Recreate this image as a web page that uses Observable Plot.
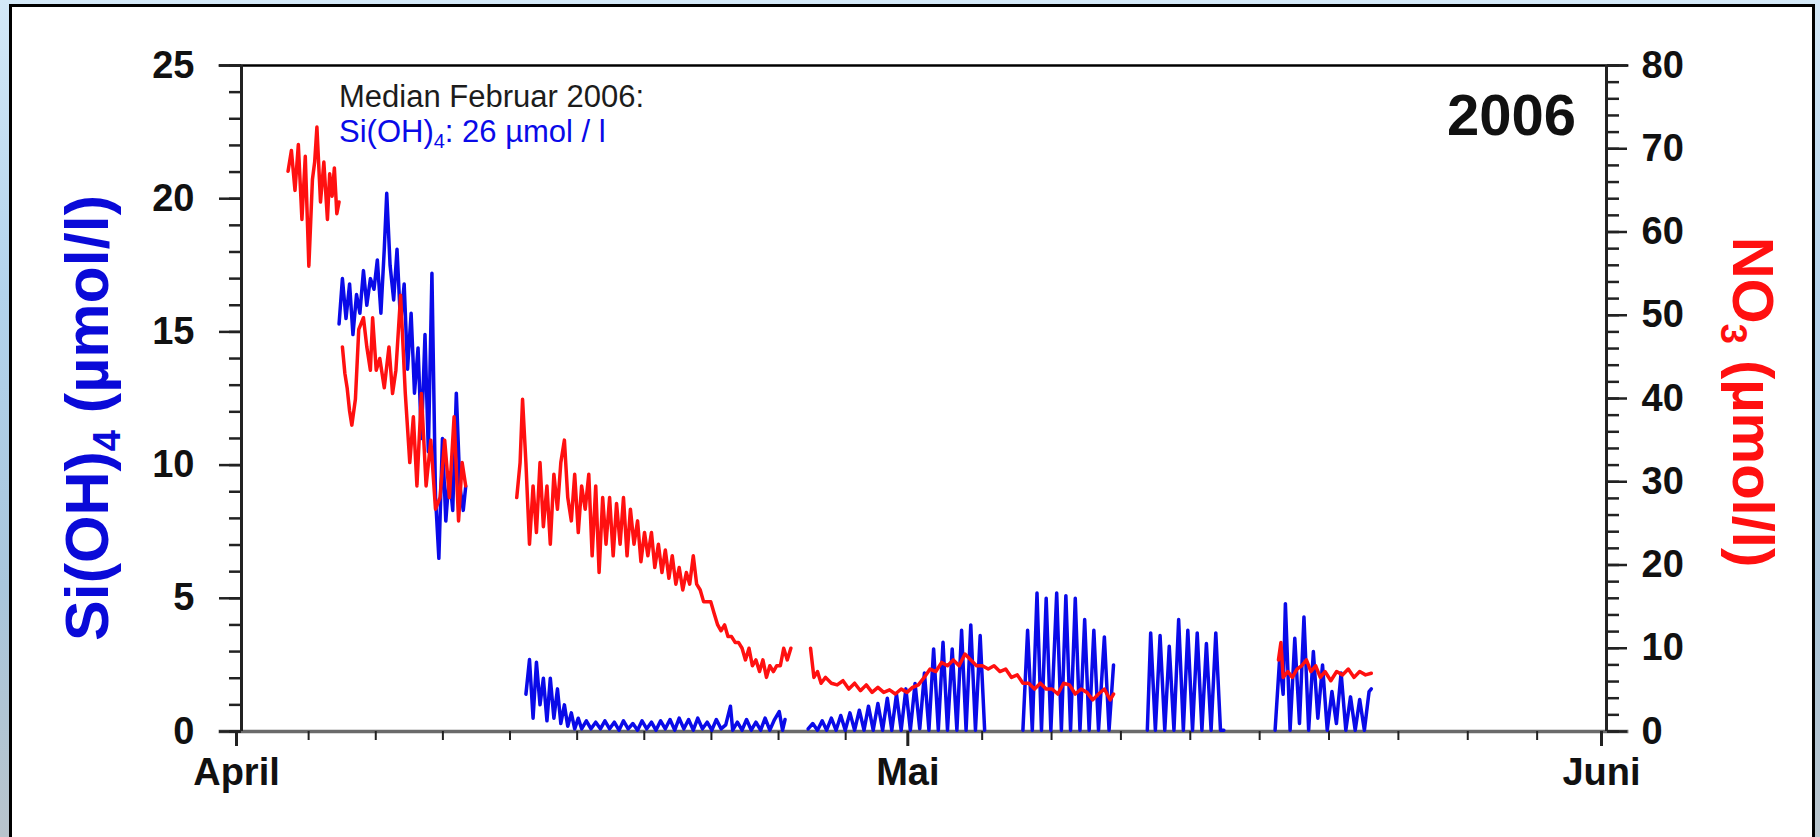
<!DOCTYPE html>
<html>
<head>
<meta charset="utf-8">
<script src="https://cdn.jsdelivr.net/npm/d3@7"></script>
<script src="https://cdn.jsdelivr.net/npm/@observablehq/plot@0.6"></script>
<style>
  html, body { margin: 0; padding: 0; width: 1820px; height: 837px; overflow: hidden; }
  body {
    position: relative;
    background: linear-gradient(180deg, #d4e9f8 0%, #b3d3ec 35%, #a9c6dc 70%, #b8c4cc 100%);
    font-family: "Liberation Sans", Arial, sans-serif;
  }
  #panel { position: absolute; left: 9px; top: 4px; width: 1806px; height: 840px; background: #fff; border: 3px solid #000; box-sizing: border-box; }
  #chart { position: absolute; left: 0; top: 0; }
</style>
</head>
<body>
<div id="panel"></div>
<div id="chart"></div>
<script>
// Time is given in days after 1 April 2006, 00:00 (UTC).
// Si(OH)4 in µmol/l, NO3 in µmol/l.

const monthLabels = ["April", "Mai", "Juni"];
const monthStarts = ["2006-04-01", "2006-05-01", "2006-06-01"];
const siTicksMajor = [0, 5, 10, 15, 20, 25];
const no3TicksMajor = [0, 10, 20, 30, 40, 50, 60, 70, 80];

// NO3 record, one array per uninterrupted stretch
const no3Seg1 = [[2.08,67.3],[2.23,69.8],[2.39,65.0],[2.54,70.5],[2.70,61.5],[2.85,69.1],[3.01,55.9],[3.17,66.3],[3.27,68.4],[3.37,72.6],[3.53,63.6],[3.68,68.4],[3.84,61.5],[3.94,67.0],[4.05,64.3],[4.15,67.7],[4.26,62.2],[4.36,63.6]];
const no3Seg2 = [[4.51,46.2],[4.62,43.0],[4.72,41.3],[4.83,38.5],[4.93,36.8],[5.09,39.9],[5.24,48.3],[5.45,49.7],[5.60,46.2],[5.76,43.4],[5.86,49.7],[6.02,43.4],[6.18,44.8],[6.38,41.3],[6.59,46.2],[6.75,40.6],[6.90,43.4],[7.11,52.4],[7.32,40.6],[7.52,32.3],[7.68,37.8],[7.84,29.5],[8.04,40.6],[8.25,29.5],[8.46,35.0],[8.67,26.7],[8.87,28.1],[9.08,35.0],[9.29,28.1],[9.50,37.8],[9.70,25.3],[9.86,32.3],[10.02,29.5]];
const no3Seg3 = [[12.30,28.1],[12.45,32.3],[12.56,39.9],[12.71,32.3],[12.87,22.5],[13.03,29.5],[13.18,23.9],[13.34,32.3],[13.49,24.6],[13.65,29.5],[13.80,22.5],[13.96,30.9],[14.12,26.7],[14.27,32.3],[14.43,35.0],[14.58,28.1],[14.74,25.3],[14.89,30.9],[15.05,23.9],[15.20,29.5],[15.36,26.7],[15.52,30.9],[15.67,21.1],[15.83,29.5],[15.98,19.1],[16.14,28.1],[16.29,22.5],[16.45,28.1],[16.61,21.1],[16.76,27.4],[16.92,22.5],[17.07,28.1],[17.23,21.1],[17.38,26.7],[17.54,22.5],[17.70,25.3],[17.85,20.4],[18.01,23.9],[18.16,21.1],[18.32,23.9],[18.47,19.7],[18.63,22.5],[18.79,19.1],[18.94,21.8],[19.10,18.4],[19.25,21.1],[19.41,17.7],[19.56,19.7],[19.72,17.0],[19.88,19.1],[20.03,17.7],[20.19,21.1],[20.34,17.7],[20.50,17.0],[20.65,15.6],[20.81,15.6],[20.97,15.6],[21.12,14.2],[21.28,12.8],[21.43,12.1],[21.59,12.8],[21.74,11.4],[21.90,11.4],[22.06,10.7],[22.21,10.7],[22.37,10.0],[22.52,8.6],[22.68,10.0],[22.83,7.9],[22.99,8.6],[23.15,7.2],[23.30,8.6],[23.46,6.5],[23.61,7.9],[23.77,7.2],[23.92,7.9],[24.08,7.9],[24.23,10.0],[24.39,8.6],[24.55,10.0]];
const no3Seg4 = [[25.43,10.0],[25.58,6.5],[25.74,7.2],[25.90,5.8],[26.10,6.5],[26.36,5.8],[26.62,5.6],[26.88,6.1],[27.14,5.1],[27.40,5.8],[27.66,4.9],[27.92,5.6],[28.18,4.7],[28.44,5.3],[28.70,4.7],[28.96,5.0],[29.22,4.5],[29.48,5.1],[29.74,4.7],[29.99,5.3],[30.25,5.6],[30.51,6.5],[30.77,7.5],[31.03,7.2],[31.29,8.3],[31.55,7.9],[31.81,8.6],[32.07,7.9],[32.33,9.3],[32.59,8.6],[32.85,7.9],[33.11,7.9],[33.37,7.5],[33.63,7.9],[33.89,7.2],[34.15,7.5],[34.41,6.5],[34.67,6.8],[34.92,5.8],[35.18,5.8],[35.44,5.1],[35.70,5.8],[35.96,5.1],[36.22,5.1],[36.48,4.5],[36.74,5.8],[37.00,5.6],[37.26,4.5],[37.52,5.1],[37.78,4.7],[38.04,3.8],[38.30,4.5],[38.56,5.1],[38.82,3.8],[38.97,4.5]];
const no3Seg5 = [[46.34,8.6],[46.45,10.7],[46.55,6.5],[46.76,7.2],[46.96,6.5],[47.17,7.5],[47.38,7.9],[47.59,8.6],[47.79,7.2],[48.00,7.9],[48.21,6.5],[48.42,7.2],[48.68,6.1],[48.94,7.2],[49.20,6.8],[49.46,7.5],[49.72,6.5],[49.97,7.2],[50.23,6.8],[50.49,7.0]];

// Si(OH)4 record, one array per uninterrupted stretch
const siSeg1 = [[4.36,15.3],[4.51,17.0],[4.67,15.5],[4.83,16.8],[4.98,14.9],[5.14,16.4],[5.29,15.7],[5.45,17.3],[5.60,16.0],[5.76,17.0],[5.92,16.6],[6.07,17.7],[6.23,15.7],[6.38,18.1],[6.49,20.2],[6.64,17.5],[6.80,16.2],[6.95,18.1],[7.11,15.3],[7.27,16.8],[7.42,13.6],[7.58,15.7],[7.73,12.7],[7.89,14.4],[8.04,11.0],[8.20,14.9],[8.35,10.5],[8.51,17.2],[8.67,8.8],[8.82,6.5],[8.98,11.0],[9.13,7.9],[9.29,9.7],[9.44,8.3],[9.60,12.7],[9.76,9.2],[9.91,8.3],[10.02,9.2]];
const siSeg2 = [[12.71,1.4],[12.87,2.7],[13.03,0.5],[13.18,2.6],[13.34,1.0],[13.49,2.0],[13.65,0.4],[13.80,2.0],[13.96,0.5],[14.12,1.6],[14.27,0.3],[14.43,1.0],[14.58,0.2],[14.74,0.7],[14.89,0.1],[15.05,0.5],[15.20,0.1],[15.41,0.4],[15.62,0.1],[15.83,0.35],[16.04,0.1],[16.24,0.4],[16.45,0.1],[16.66,0.35],[16.87,0.05],[17.07,0.4],[17.28,0.1],[17.49,0.3],[17.70,0.05],[17.90,0.4],[18.11,0.1],[18.32,0.35],[18.52,0.05],[18.73,0.4],[18.94,0.1],[19.15,0.45],[19.36,0.05],[19.56,0.5],[19.77,0.1],[19.98,0.45],[20.19,0.05],[20.39,0.5],[20.60,0.1],[20.81,0.35],[21.02,0.05],[21.22,0.45],[21.43,0.1],[21.64,0.25],[21.85,0.95],[21.95,0.05],[22.16,0.35],[22.37,0.05],[22.57,0.45],[22.78,0.05],[22.99,0.35],[23.20,0.05],[23.40,0.5],[23.61,0.05],[23.82,0.45],[24.03,0.75],[24.18,0.05],[24.29,0.45]];
const siSeg3 = [[25.32,0.1],[25.53,0.3],[25.74,0.05],[25.95,0.4],[26.15,0.05],[26.36,0.5],[26.57,0.05],[26.78,0.6],[26.98,0.05],[27.19,0.7],[27.40,0.05],[27.61,0.8],[27.82,0.05],[28.02,0.95],[28.23,0.05],[28.44,1.05],[28.65,0.05],[28.86,1.25],[29.06,0.05],[29.27,1.4],[29.48,0.05],[29.69,1.6],[29.89,0.05],[30.10,1.8],[30.31,0.1],[30.52,2.2],[30.72,0.05],[30.93,3.1],[31.14,0.05],[31.35,3.35],[31.55,0.05],[31.76,3.1],[31.97,0.05],[32.18,3.8],[32.38,0.05],[32.59,4.0],[32.80,0.05],[33.01,3.6],[33.21,0.05]];
const siSeg4 = [[34.92,0.05],[35.13,3.8],[35.34,0.05],[35.55,5.2],[35.75,0.05],[35.96,5.0],[36.17,0.05],[36.43,5.2],[36.64,0.05],[36.84,5.1],[37.05,0.05],[37.26,5.0],[37.47,0.05],[37.68,4.2],[37.88,0.05],[38.09,3.8],[38.30,0.05],[38.56,3.55],[38.77,0.05],[38.97,2.5]];
const siSeg5 = [[40.48,0.05],[40.63,3.7],[40.84,0.05],[41.05,3.6],[41.26,0.05],[41.46,3.2],[41.67,0.05],[41.88,4.2],[42.09,0.05],[42.29,3.8],[42.50,0.05],[42.71,3.7],[42.92,0.05],[43.12,3.3],[43.33,0.05],[43.54,3.7],[43.75,0.05],[43.90,0.05]];
const siSeg6 = [[46.19,0.05],[46.39,2.7],[46.55,1.4],[46.65,4.8],[46.86,0.05],[47.07,3.5],[47.28,0.3],[47.48,4.3],[47.69,0.05],[47.90,3.0],[48.10,0.5],[48.31,2.5],[48.52,0.05],[48.73,1.5],[48.93,0.3],[49.14,2.2],[49.35,0.05],[49.56,1.3],[49.77,0.05],[49.97,1.2],[50.18,0.05],[50.39,1.5],[50.49,1.6]];

const BLUE = "#0a0ae8";
const RED = "#ff1010";
const INK = "#111";

const t0 = Date.UTC(2006, 3, 1);
const toDate = d => new Date(t0 + d * 864e5);
const parse = s => new Date(s + "T00:00:00Z");

// NO3 shares the plot's y scale: 80 µmol/l on the right equals 25 µmol/l on the left
const k = 25 / 80;

const rows = (segs) => segs.flatMap((s, i) => s.map(([d, v]) => ({t: toDate(d), v, seg: i})));
const siRows = rows([siSeg1, siSeg2, siSeg3, siSeg4, siSeg5, siSeg6]);
const no3Rows = rows([no3Seg1, no3Seg2, no3Seg3, no3Seg4, no3Seg5]);

// Minor x ticks split each month into ten equal parts
const monthDates = monthStarts.map(parse);
const xMinor = [];
for (let m = 0; m < 2; m++) {
  const a = +monthDates[m], b = +monthDates[m + 1];
  for (let j = 1; j < 10; j++) xMinor.push(new Date(a + (b - a) * j / 10));
}
const siMinor = d3.range(0, 26, 1);
const no3Minor = d3.range(0, 81, 2);

const labelOf = new Map(monthDates.map((d, i) => [+d, monthLabels[i]]));

const tickFont = {fontSize: 38, fontWeight: "bold", fill: INK};

const plot = Plot.plot({
  width: 1820,
  height: 837,
  marginLeft: 241,
  marginRight: 214,
  marginTop: 65,
  marginBottom: 106,
  style: {fontFamily: "'Liberation Sans', Arial, sans-serif", background: "transparent", color: INK, overflow: "visible"},
  x: {type: "utc", domain: [monthDates[0], monthDates[2]]},
  y: {domain: [0, 25]},
  marks: [
    // frame: top and bottom lines run a little past both axes
    Plot.ruleY([25], {x1: parse("2006-03-31"), x2: parse("2006-06-02"), stroke: "#000", strokeWidth: 2.5}),
    Plot.ruleY([0], {x1: parse("2006-03-31"), x2: parse("2006-06-02"), stroke: "#6a6a6a", strokeWidth: 3.5}),
    Plot.ruleX([monthDates[0], monthDates[2]], {y1: 0, y2: 25, stroke: "#222", strokeWidth: 3}),

    // x axis
    Plot.axisX({ticks: xMinor, tickSize: 9, tickFormat: () => "", label: null, stroke: "#222", strokeWidth: 2}),
    Plot.axisX({ticks: monthDates, tickSize: 15, tickPadding: 12, tickFormat: d => labelOf.get(+d), label: null,
                stroke: "#222", strokeWidth: 3, dx: -5, ...tickFont}),

    // left axis, Si(OH)4
    Plot.axisY({anchor: "left", ticks: siMinor, tickSize: 12, tickFormat: () => "", label: null, stroke: "#222", strokeWidth: 2.5}),
    Plot.axisY({anchor: "left", ticks: siTicksMajor, tickSize: 22, tickPadding: 25, label: null, stroke: "#222", strokeWidth: 2.5, ...tickFont}),

    // right axis, NO3
    Plot.axisY({anchor: "right", ticks: no3Minor.map(v => v * k), tickSize: 12, tickFormat: () => "", label: null, stroke: "#222", strokeWidth: 2.5}),
    Plot.axisY({anchor: "right", ticks: no3TicksMajor.map(v => v * k), tickSize: 20, tickPadding: 15,
                tickFormat: d => String(Math.round(d / k)), label: null, stroke: "#222", strokeWidth: 2.5, ...tickFont}),

    // series
    Plot.line(siRows, {x: "t", y: "v", z: "seg", stroke: BLUE, strokeWidth: 3.5, curve: "linear"}),
    Plot.line(no3Rows, {x: "t", y: d => d.v * k, z: "seg", stroke: RED, strokeWidth: 3.5, curve: "linear"})
  ]
});

document.getElementById("chart").appendChild(plot);

// Titles and annotations (need subscripts, so written as SVG text with tspans)
const svg = d3.select(plot);
const FONT = "'Liberation Sans', Arial, sans-serif";

function chem(sel, base, sub, rest, subSize, shift) {
  sel.append("tspan").text(base);
  sel.append("tspan").attr("font-size", subSize).attr("dy", shift).text(sub);
  sel.append("tspan").attr("dy", -shift).text(rest);
}

svg.append("text")
  .attr("x", 339).attr("y", 107).attr("text-anchor", "start")
  .attr("font-family", FONT).attr("font-size", 31).attr("fill", "#1c1c1c")
  .text("Median Februar 2006:");

chem(svg.append("text")
  .attr("x", 339).attr("y", 142).attr("text-anchor", "start")
  .attr("font-family", FONT).attr("font-size", 31).attr("fill", BLUE),
  "Si(OH)", "4", ": 26 µmol / l", 20, 6);

svg.append("text")
  .attr("x", 1576).attr("y", 135).attr("text-anchor", "end")
  .attr("font-family", FONT).attr("font-size", 58).attr("font-weight", "bold").attr("fill", INK)
  .text("2006");

chem(svg.append("text")
  .attr("transform", "translate(108,418) rotate(-90)")
  .attr("text-anchor", "middle")
  .attr("font-family", FONT).attr("font-size", 61).attr("font-weight", "bold").attr("fill", "#0a0ad8"),
  "Si(OH)", "4", " (µmol/l)", 38, 12);

chem(svg.append("text")
  .attr("transform", "translate(1733,402) rotate(90)")
  .attr("text-anchor", "middle")
  .attr("font-family", FONT).attr("font-size", 58).attr("font-weight", "bold").attr("fill", RED),
  "NO", "3", " (µmol/l)", 36, 12);
</script>
</body>
</html>
